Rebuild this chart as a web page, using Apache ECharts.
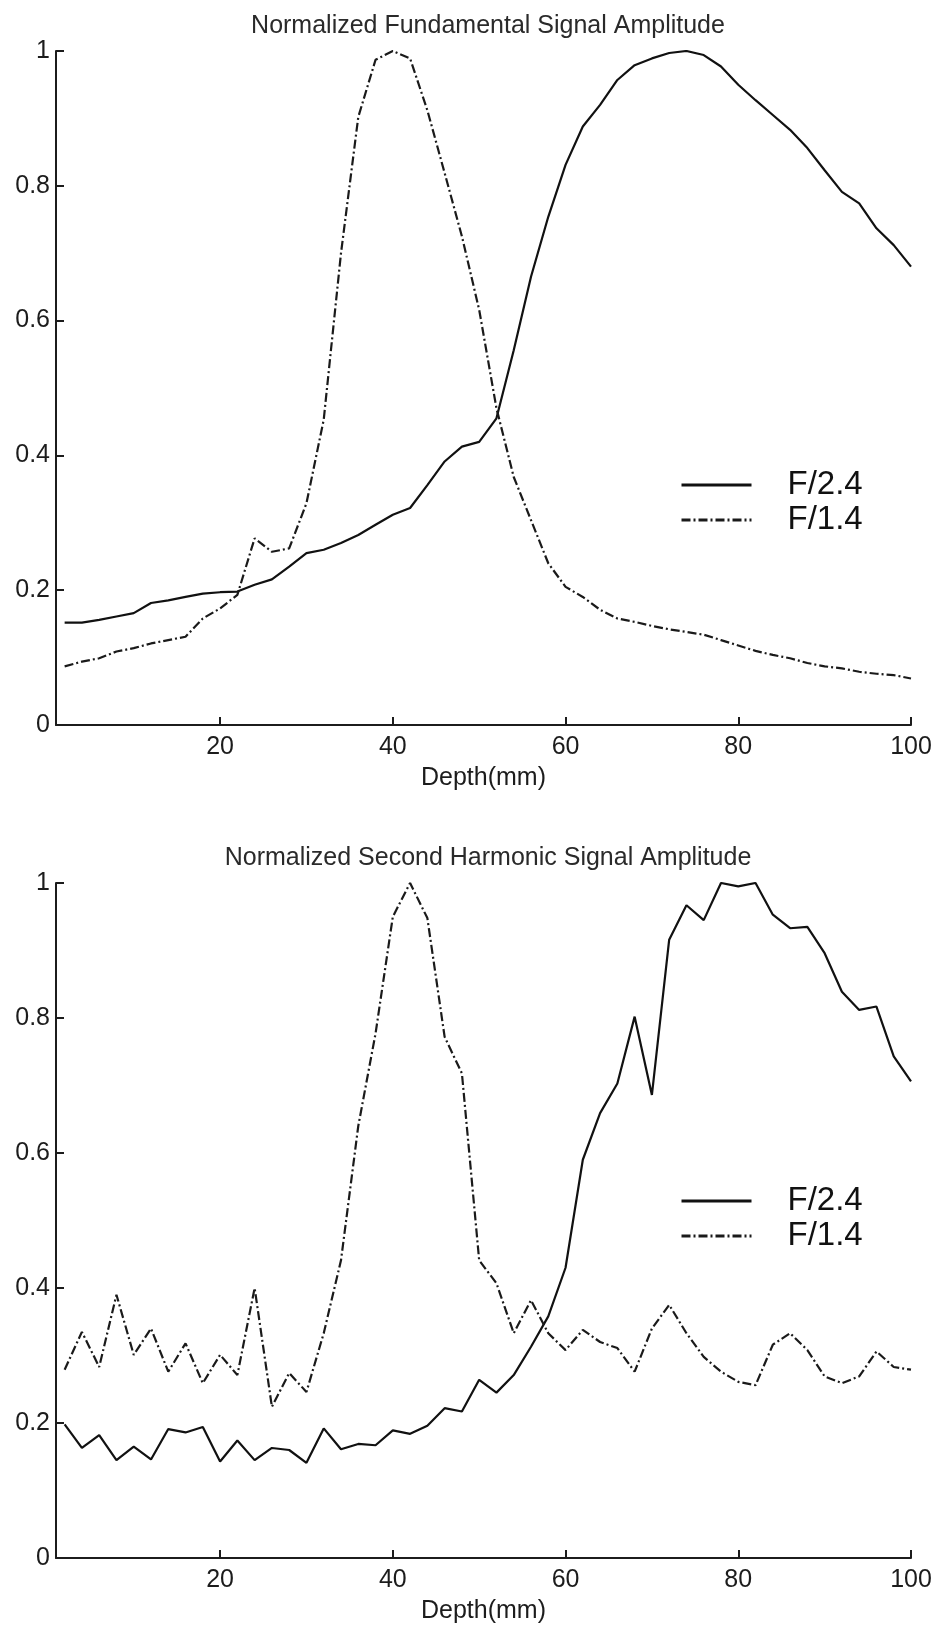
<!DOCTYPE html>
<html>
<head>
<meta charset="utf-8">
<script src="https://cdn.jsdelivr.net/npm/echarts@6/dist/echarts.min.js"></script>
<style>
  html, body { margin: 0; padding: 0; background: #fff; }
  #chart { width: 939px; height: 1627px; }
</style>
</head>
<body>
<div id="chart"></div>
<script>
var depth = [2, 4, 6, 8, 10, 12, 14, 16, 18, 20, 22, 24, 26, 28, 30, 32, 34, 36, 38, 40,
             42, 44, 46, 48, 50, 52, 54, 56, 58, 60, 62, 64, 66, 68, 70, 72, 74, 76, 78, 80,
             82, 84, 86, 88, 90, 92, 94, 96, 98, 100];

// Normalized fundamental amplitude
var fundF24 = [0.152, 0.152, 0.156, 0.161, 0.166, 0.181, 0.185, 0.190, 0.195, 0.197,
               0.198, 0.208, 0.216, 0.235, 0.255, 0.260, 0.270, 0.282, 0.297, 0.312,
               0.322, 0.356, 0.391, 0.413, 0.420, 0.455, 0.556, 0.665, 0.754, 0.831,
               0.888, 0.920, 0.957, 0.979, 0.989, 0.997, 1.000, 0.994, 0.977, 0.950,
               0.927, 0.905, 0.883, 0.856, 0.823, 0.791, 0.774, 0.737, 0.712, 0.680];
var fundF14 = [0.087, 0.094, 0.099, 0.109, 0.114, 0.121, 0.126, 0.131, 0.158, 0.173,
               0.193, 0.277, 0.257, 0.262, 0.329, 0.453, 0.700, 0.902, 0.987, 1.000,
               0.989, 0.912, 0.819, 0.725, 0.616, 0.470, 0.368, 0.304, 0.240, 0.205,
               0.190, 0.171, 0.158, 0.153, 0.147, 0.142, 0.138, 0.134, 0.126, 0.118,
               0.110, 0.104, 0.099, 0.092, 0.087, 0.084, 0.079, 0.076, 0.074, 0.069];

// Normalized second harmonic amplitude
var harmF24 = [0.198, 0.163, 0.182, 0.145, 0.165, 0.146, 0.191, 0.186, 0.194, 0.143,
               0.174, 0.145, 0.163, 0.160, 0.141, 0.192, 0.161, 0.169, 0.167, 0.189,
               0.184, 0.196, 0.222, 0.217, 0.264, 0.245, 0.271, 0.313, 0.358, 0.430,
               0.590, 0.659, 0.703, 0.802, 0.686, 0.916, 0.967, 0.945, 1.000, 0.995,
               1.000, 0.953, 0.933, 0.935, 0.896, 0.839, 0.812, 0.817, 0.743, 0.706];
var harmF14 = [0.279, 0.335, 0.283, 0.390, 0.301, 0.340, 0.276, 0.318, 0.259, 0.301,
               0.271, 0.400, 0.224, 0.274, 0.246, 0.333, 0.441, 0.640, 0.777, 0.950,
               1.000, 0.948, 0.772, 0.718, 0.441, 0.407, 0.333, 0.382, 0.333, 0.308,
               0.338, 0.320, 0.311, 0.276, 0.340, 0.375, 0.333, 0.298, 0.276, 0.261,
               0.256, 0.316, 0.333, 0.308, 0.269, 0.259, 0.269, 0.306, 0.283, 0.279];

var xTicks = [20, 40, 60, 80, 100];
var titles = ['Normalized Fundamental Signal Amplitude', 'Normalized Second Harmonic Signal Amplitude'];
var seriesNames = ['F/2.4', 'F/1.4'];

var FONT = '"Liberation Sans", Arial, Helvetica, sans-serif';
var INK = '#1c1c1c';

function pairs(xs, ys) {
    return xs.map(function(x, i) { return [x, ys[i]]; });
}

function xAxisFor(idx) {
    return {
        type: 'value', gridIndex: idx, min: 1, max: 100,
        name: 'Depth(mm)', nameLocation: 'middle', nameGap: 41,
        nameTextStyle: { fontFamily: FONT, fontSize: 25, color: INK },
        axisLine: { lineStyle: { color: INK, width: 2 } },
        axisTick: { inside: true, length: 8, customValues: xTicks, lineStyle: { color: INK, width: 2 } },
        axisLabel: { customValues: xTicks, margin: 10, fontFamily: FONT, fontSize: 25, color: INK },
        splitLine: { show: false }
    };
}

function yAxisFor(idx) {
    return {
        type: 'value', gridIndex: idx, min: 0, max: 1, interval: 0.2,
        axisLine: { show: true, lineStyle: { color: INK, width: 2 } },
        axisTick: { show: true, inside: true, length: 8, lineStyle: { color: INK, width: 2 } },
        axisLabel: { margin: 6, fontFamily: FONT, fontSize: 25, color: INK },
        splitLine: { show: false }
    };
}

function lineSeries(name, idx, ys, dashed) {
    var col = dashed ? '#1a1a1a' : '#111';
    return {
        name: name, type: 'line', xAxisIndex: idx, yAxisIndex: idx,
        data: pairs(depth, ys),
        symbol: 'none', silent: true, animation: false,
        itemStyle: { color: col },
        lineStyle: dashed
            ? { color: col, width: 2.2, type: [9, 3, 2, 3] }
            : { color: col, width: 2.2, type: 'solid' }
    };
}

function legendAt(top) {
    return {
        orient: 'vertical', left: 675, top: top,
        itemWidth: 70, itemHeight: 14, itemGap: 1,
        data: seriesNames,
        selectedMode: false,
        itemStyle: { opacity: 0 },
        lineStyle: { width: 3 },
        textStyle: { fontFamily: FONT, fontSize: 33, color: '#111', lineHeight: 34, padding: [0, 0, 0, 31] }
    };
}

var chart = echarts.init(document.getElementById('chart'), null, { renderer: 'canvas' });
chart.setOption({
    backgroundColor: '#fff',
    animation: false,
    title: [
        { text: titles[0], left: 483, top: 9, textAlign: 'center',
          textStyle: { fontFamily: FONT, fontSize: 25, fontWeight: 'normal', color: '#2a2a2a' } },
        { text: titles[1], left: 483, top: 841, textAlign: 'center',
          textStyle: { fontFamily: FONT, fontSize: 25, fontWeight: 'normal', color: '#2a2a2a' } }
    ],
    legend: [legendAt(463), legendAt(1179)],
    grid: [
        { left: 56, right: 28, top: 51, height: 674 },
        { left: 56, right: 28, top: 883, height: 675 }
    ],
    xAxis: [xAxisFor(0), xAxisFor(1)],
    yAxis: [yAxisFor(0), yAxisFor(1)],
    series: [
        lineSeries(seriesNames[0], 0, fundF24, false),
        lineSeries(seriesNames[1], 0, fundF14, true),
        lineSeries(seriesNames[0], 1, harmF24, false),
        lineSeries(seriesNames[1], 1, harmF14, true)
    ]
});
</script>
</body>
</html>
